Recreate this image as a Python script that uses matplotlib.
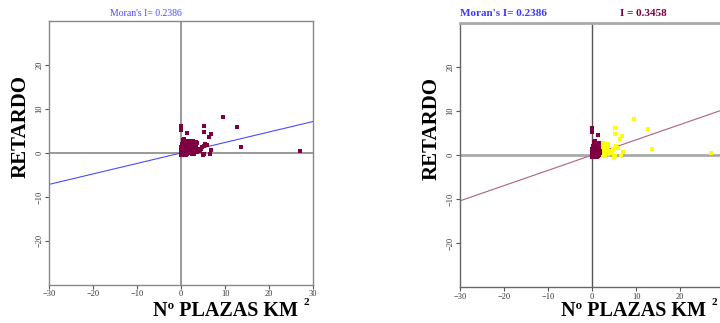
import numpy as np
import matplotlib.pyplot as plt

# standardized values (x) and spatial lag (y)
x_vals = [0.05, 0.1, 0.15, 0.2, 0.25, 0.3, 0.35, 0.4, 0.45, 0.5, 0.55, 0.6, 0.65, 0.7, 0.75,
          0.8, 0.85, 0.9, 0.95, 1.0, 1.05, 1.1, 1.15, 1.2, 1.25, 1.3, 1.35, 1.4, 1.5, 1.55,
          1.6, 1.7, 1.8, 1.9, 2.0, 2.1, 2.2, 2.3, 2.4, 2.5, 2.6, 2.8, 2.9, 3.0, 3.2, 3.4,
          3.6, 3.8, 4.0, 4.2, 0.1, 0.2, 0.3, 0.5, 0.4, 0.0, 0.0, 0.02, 0.1, 0.3, 0.6, 0.9,
          1.2, 0.7, 0.9, 1.1, 1.3, 1.6, 2.1, 2.6, 3.1, 3.5, 4.4, 4.8, 5.2,
          0.0, 0.0, 1.3, 5.2, 5.1, 9.6, 12.6, 6.7, 6.4, 13.6, 6.9, 6.6, 5.1, 4.9, 4.5,
          5.4, 5.8, 3.6, 2.6, 1.9, 0.5, 0.7, 27.0, 1.5, 1.2]
y_vals = [0.1, 0.3, -0.2, 0.6, 0.9, 0.2, 1.2, -0.1, 0.5, 1.5, 0.8, 0.0, 1.1, 0.4, 1.7,
          -0.3, 0.7, 1.3, 0.2, 0.9, 1.6, 0.1, 0.5, 1.0, -0.2, 0.6, 1.4, 0.3, 0.8, -0.1,
          1.2, 0.4, 0.9, 0.0, 0.6, 1.1, 0.2, 1.5, -0.3, 0.7, 0.3, 1.2, 0.5, -0.2, 0.9, 1.4,
          0.2, 0.7, 1.0, 0.4, 1.8, 2.0, 1.6, 2.2, 1.9, 1.4, 0.8, -0.4, -0.3, -0.4, -0.4, -0.3,
          -0.4, 2.0, 1.9, 2.1, 1.8, 2.0, 1.9, 2.3, 1.8, 2.4, 0.9, 1.3, 1.6,
          6.2, 5.2, 4.5, 6.1, 4.8, 8.2, 5.9, 4.3, 3.7, 1.4, 0.6, -0.3, -0.3, -0.4, 0.8,
          2.0, 1.7, 2.3, 2.7, 2.7, 2.9, 3.1, 0.4, 2.8, 2.6]

moran_global = 0.2386
moran_local = 0.3458

x = np.array(x_vals)
y = np.array(y_vals)

maroon = '#7f0040'
serif = ['Liberation Serif', 'DejaVu Serif']

W, H = 720, 323
fig = plt.figure(figsize=(7.2, 3.23), dpi=100)
ax1 = fig.add_axes([0.068, 0.118, 0.367, 0.817])
ax2 = fig.add_axes([0.639, 0.110, 0.367, 0.820])


def style(ax, xticks):
    ax.set_xlim(-30, 30)
    ax.set_ylim(-30, 30)
    ax.set_xticks(xticks)
    ax.set_yticks([-20, -10, 0, 10, 20])
    ax.tick_params(labelsize=6, length=3, width=0.8, color='#555555', pad=1)
    for lab in ax.get_xticklabels() + ax.get_yticklabels():
        lab.set_family(serif)
        lab.set_color('#333333')
    for lab in ax.get_yticklabels():
        lab.set_rotation(90)
        lab.set_va('center')


def labels(x_right, y_ret_x, y_ret_c):
    # px positions -> figure fraction
    fig.text(x_right / W, 1 - 316 / H, 'Nº PLAZAS KM', fontsize=14.5, fontweight='bold',
             family=serif, ha='right', va='baseline')
    fig.text((x_right + 5) / W, 1 - 305 / H, '2', fontsize=8, fontweight='bold',
             family=serif, ha='left', va='baseline')
    fig.text(y_ret_x / W, 1 - y_ret_c / H, 'RETARDO', fontsize=15, fontweight='bold',
             family=serif, rotation=90, ha='center', va='center')


# left panel
style(ax1, [-30, -20, -10, 0, 10, 20, 30])
for s in ax1.spines.values():
    s.set_color('#888888')
    s.set_linewidth(1.0)
ax1.axhline(0, color='#888888', lw=1.2, zorder=1)
ax1.axvline(0, color='#888888', lw=1.2, zorder=1)
xl = np.array([-30, 30])
ax1.plot(xl, moran_global * xl, color='#4a4aff', lw=0.8, zorder=2)
ax1.scatter(x, y, s=5, color=maroon, marker='s', lw=0, zorder=3)
ax1.text(-8, 30.6, "Moran's I= 0.2386", color='#4a4aff', fontsize=7, family=serif,
         ha='center', va='bottom')
labels(298, 21, 126)

# right panel (its right edge runs past the image, so the 30 tick is not shown)
style(ax2, [-30, -20, -10, 0, 10, 20])
for s in ax2.spines.values():
    s.set_color('#666666')
    s.set_linewidth(1.0)
ax2.spines['top'].set_color('#aaaaaa')
ax2.spines['top'].set_linewidth(2)
ax2.axhline(0, color='#aaaaaa', lw=2, zorder=1)
ax2.axvline(0, color='#555555', lw=1, zorder=1)
ax2.plot(xl, moran_local * xl, color='#b06080', lw=0.8, zorder=2)
hi = x > 1.85
ax2.scatter(x[hi], y[hi], s=5, color='#ffff00', marker='s', lw=0, zorder=3)
ax2.scatter(x[~hi], y[~hi], s=7, color=maroon, marker='s', lw=0, zorder=4)
ax2.text(-30, 31.0, "Moran's I= 0.2386", color='#3a3aff', fontsize=8, family=serif,
         fontweight='bold', ha='left', va='bottom')
ax2.text(6.3, 31.0, "I = 0.3458", color=maroon, fontsize=8, family=serif,
         fontweight='bold', ha='left', va='bottom')
labels(706, 432, 129)

fig.savefig('out.png', dpi=100)
